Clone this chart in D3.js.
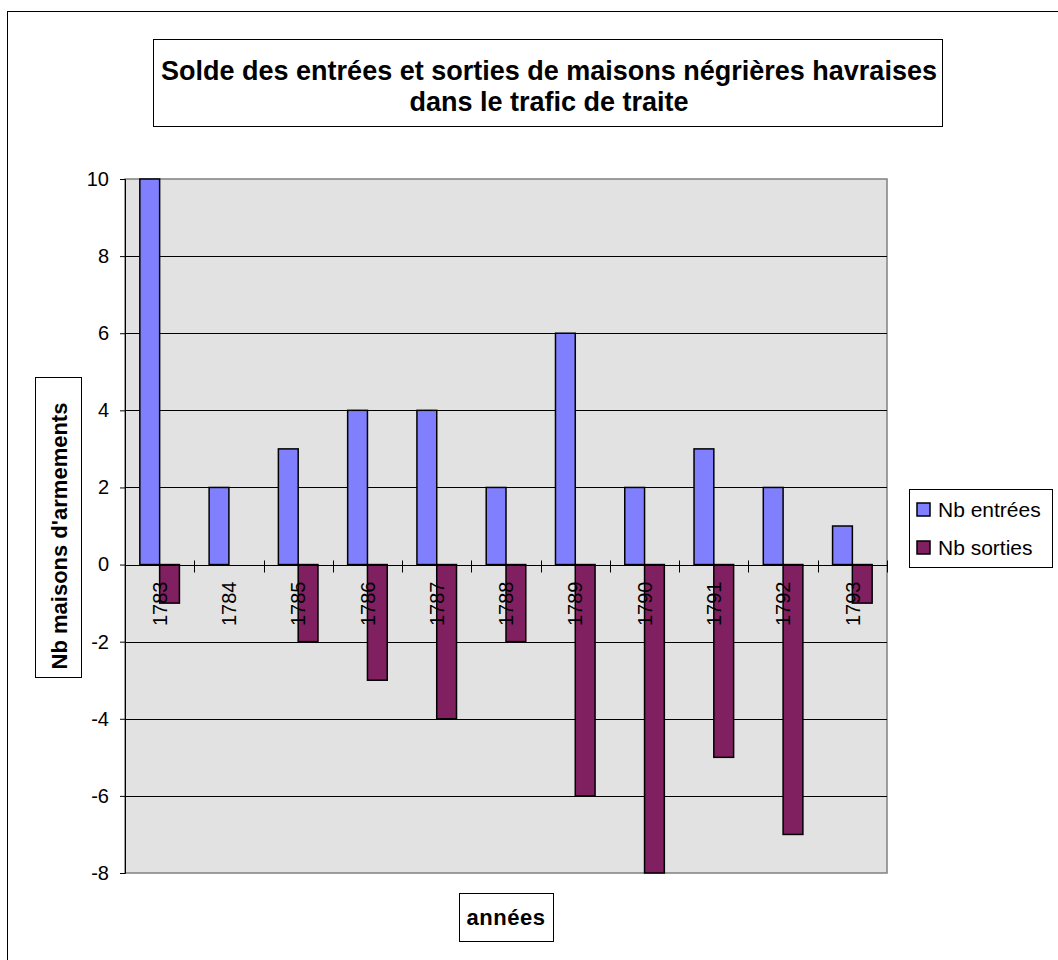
<!DOCTYPE html>
<html>
<head>
<meta charset="utf-8">
<script src="https://cdn.jsdelivr.net/npm/d3@7"></script>
<style>
  body { margin: 0; background: #fff; }
  text { font-family: "Liberation Sans", Arial, sans-serif; fill: #000; }
</style>
</head>
<body>
<div id="wrapper"></div>
<script>
// chart values
const years = ["1783", "1784", "1785", "1786", "1787", "1788", "1789", "1790", "1791", "1792", "1793"];
const entrees = [10, 2, 3, 4, 4, 2, 6, 2, 3, 2, 1];
const sorties = [-1, 0, -2, -3, -4, -2, -6, -8, -5, -7, -1];
const seriesNames = ["Nb entrées", "Nb sorties"];
const seriesColors = ["#8080ff", "#802060"];
const yTicks = [-8, -6, -4, -2, 0, 2, 4, 6, 8, 10];

const W = 1058, H = 960;
const plot = { left: 125, right: 887, top: 179, bottom: 873 };

const svg = d3.select("#wrapper").append("svg")
  .attr("width", W)
  .attr("height", H);

// outer chart frame (right/bottom fall outside the page)
svg.append("rect")
  .attr("x", 7.5).attr("y", 11.5)
  .attr("width", W + 20).attr("height", H + 20)
  .attr("fill", "#fff").attr("stroke", "#000").attr("stroke-width", 1);

const x = d3.scaleBand().domain(years).range([plot.left, plot.right]).padding(0);
const inner = d3.scaleBand().domain([0, 1]).range([0, x.bandwidth()])
  .paddingInner(0).paddingOuter(0.75);
const y = d3.scaleLinear().domain([-8, 10]).range([plot.bottom, plot.top]);

// plot area
svg.append("rect")
  .attr("x", plot.left).attr("y", plot.top)
  .attr("width", plot.right - plot.left).attr("height", plot.bottom - plot.top)
  .attr("fill", "#e2e2e2").attr("stroke", "#808080").attr("stroke-width", 1.5);

// gridlines
svg.append("g")
  .selectAll("line")
  .data(yTicks.filter(d => d !== -8 && d !== 10))
  .enter().append("line")
  .attr("x1", plot.left).attr("x2", plot.right)
  .attr("y1", d => Math.round(y(d)) + 0.5).attr("y2", d => Math.round(y(d)) + 0.5)
  .attr("stroke", "#000").attr("stroke-width", 1);

// y axis
const yAxis = svg.append("g")
  .attr("transform", `translate(${plot.left},0)`)
  .call(d3.axisLeft(y).tickValues(yTicks).tickSize(5).tickPadding(11).tickFormat(d => String(d)));
yAxis.select(".domain").attr("stroke", "#000");
yAxis.selectAll("text")
  .style("font-family", "'Liberation Sans', Arial, sans-serif")
  .style("font-size", "20px").attr("fill", "#000");

// bars
const series = [entrees, sorties];
series.forEach((vals, si) => {
  svg.append("g")
    .selectAll("rect")
    .data(vals)
    .enter().append("rect")
    .attr("x", (d, i) => x(years[i]) + inner(si))
    .attr("width", inner.bandwidth())
    .attr("y", d => y(Math.max(0, d)))
    .attr("height", d => Math.abs(y(d) - y(0)))
    .attr("fill", seriesColors[si])
    .attr("stroke", "#000").attr("stroke-width", 1.5);
});

// x axis at zero
const y0 = Math.round(y(0)) + 0.5;
svg.append("line")
  .attr("x1", plot.left).attr("x2", plot.right)
  .attr("y1", y0).attr("y2", y0)
  .attr("stroke", "#000").attr("stroke-width", 1);
const boundaries = years.map(d => x(d)).concat([plot.right]);
svg.append("g")
  .selectAll("line")
  .data(boundaries)
  .enter().append("line")
  .attr("x1", d => Math.round(d) + 0.5).attr("x2", d => Math.round(d) + 0.5)
  .attr("y1", y0 - 5).attr("y2", y0 + 7)
  .attr("stroke", "#000");

svg.append("g")
  .selectAll("text")
  .data(years)
  .enter().append("text")
  .attr("transform", d => `translate(${x(d) + x.bandwidth() / 2},${y0 + 16}) rotate(-90)`)
  .attr("text-anchor", "end")
  .attr("dy", "0.36em")
  .style("font-size", "20px")
  .text(d => d);

// title box
svg.append("rect")
  .attr("x", 153.5).attr("y", 39.5).attr("width", 789).attr("height", 87)
  .attr("fill", "#fff").attr("stroke", "#000");
const title = svg.append("text")
  .attr("x", 549).attr("y", 80)
  .attr("text-anchor", "middle")
  .style("font-size", "27px").style("font-weight", "bold");
title.append("tspan").attr("x", 549).text("Solde des entrées et sorties de maisons négrières havraises");
title.append("tspan").attr("x", 549).attr("dy", 31).text("dans le trafic de traite");

// y axis title
svg.append("rect")
  .attr("x", 35.5).attr("y", 377.5).attr("width", 46).attr("height", 300)
  .attr("fill", "#fff").attr("stroke", "#000");
svg.append("text")
  .attr("transform", "translate(59,536) rotate(-90)")
  .attr("text-anchor", "middle").attr("dy", "0.36em")
  .style("font-size", "22px").style("font-weight", "bold")
  .text("Nb maisons d'armements");

// x axis title
svg.append("rect")
  .attr("x", 459.5).attr("y", 893.5).attr("width", 94).attr("height", 48)
  .attr("fill", "#fff").attr("stroke", "#000");
svg.append("text")
  .attr("x", 506).attr("y", 917)
  .attr("text-anchor", "middle").attr("dy", "0.36em")
  .style("font-size", "22px").style("font-weight", "bold")
  .style("letter-spacing", "0.5px")
  .text("années");

// legend
const legend = svg.append("g");
legend.append("rect")
  .attr("x", 909.5).attr("y", 489.5).attr("width", 143).attr("height", 78)
  .attr("fill", "#fff").attr("stroke", "#000");
const items = legend.selectAll("g.item")
  .data(seriesNames)
  .enter().append("g")
  .attr("transform", (d, i) => `translate(917,${503 + i * 38})`);
items.append("rect")
  .attr("width", 13).attr("height", 13)
  .attr("fill", (d, i) => seriesColors[i])
  .attr("stroke", "#000").attr("stroke-width", 1.5);
items.append("text")
  .attr("x", 21).attr("y", 6).attr("dy", "0.36em")
  .style("font-size", "21px")
  .text(d => d);
</script>
</body>
</html>
